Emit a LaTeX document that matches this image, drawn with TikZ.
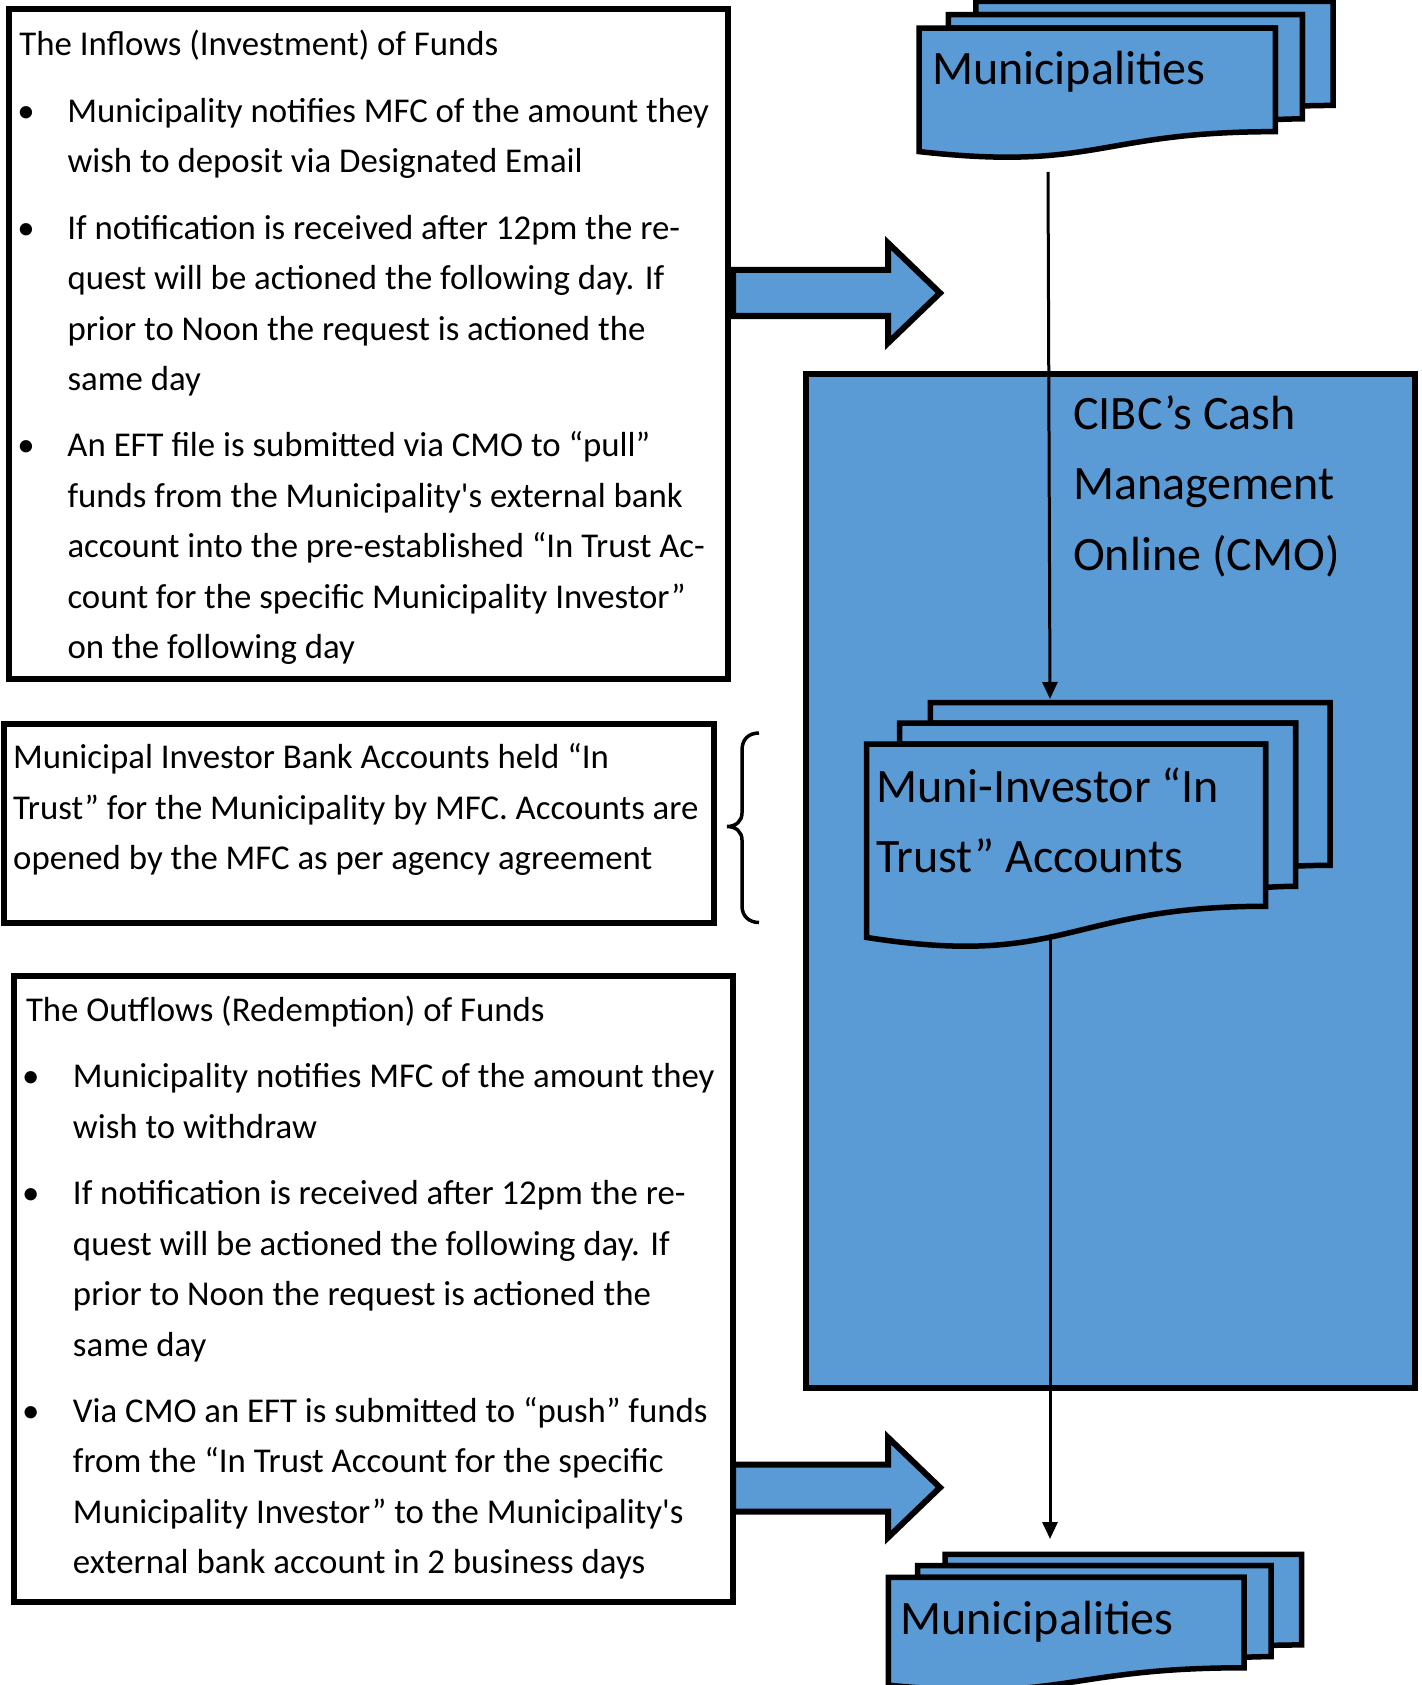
\documentclass[tikz,border=0pt]{standalone}
\usepackage{fontspec}
\newfontfamily\calib{Carlito}
\usetikzlibrary{arrows.meta}
\definecolor{offblue}{RGB}{91,155,213}
\tikzset{
 box/.style={draw=black, line width=6pt, fill=white, inner sep=0pt, anchor=north west},
 bluebox/.style={box, fill=offblue},
 docline/.style={draw=black, fill=offblue, line width=5.5pt, line join=miter},
 blockarrow/.style={draw=black, fill=offblue, line width=6pt, line join=miter, miter limit=10},
 conn/.style={draw=black, line width=3pt, -{Triangle[length=17pt,width=15pt]}},
 bracepath/.style={draw=black, line width=3.5pt},
 txt/.style={inner sep=0pt, anchor=base west, font=\calib},
}
\newcommand\smalltext{\fontsize{34.8pt}{50.5pt}\selectfont}
\newcommand\bigtext{\fontsize{48pt}{70.5pt}\selectfont}
% #1 left skip, #2 bullet box width, #3 text
\newcommand\bpara[3]{{\leftskip=#1\noindent\llap{\makebox[#2][l]{•}}#3\par}}
\newcommand\multidoc[4]{%
 \begin{scope}[shift={(#1,#2)},xscale=#3,yscale=#4]
  \path[docline] (0.13759,0.08403) -- (0.13759,0) -- (1,0) -- (1,0.66630) .. controls (0.96296,0.66630) and (0.92593,0.66977) .. (0.92593,0.66977) -- (0.92593,0.08403) -- cycle;
  \path[docline] (0.07093,0.17014) -- (0.07093,0.08403) -- (0.92593,0.08403) -- (0.92593,0.75241) .. controls (0.89343,0.75241) and (0.86088,0.75704) .. (0.86088,0.75704) -- (0.86088,0.17014) -- cycle;
  \path[docline] (0,0.96213) .. controls (0.43046,1.08991) and (0.43046,0.83435) .. (0.86088,0.83435) -- (0.86088,0.17014) -- (0,0.17014) -- cycle;
 \end{scope}}
\begin{document}
\begin{tikzpicture}[x=1pt,y=-1pt]
\useasboundingbox[fill=white] (0,0) rectangle (1421,1685);
% boxes
\node[box, minimum width=719.1pt, minimum height=669.7pt] (inbox) at (6,6) {};
\node[box, minimum width=709.5pt, minimum height=198.9pt] (midbox) at (1,721) {};
\node[box, minimum width=719.1pt, minimum height=626.6pt] (outbox) at (10.5,972.5) {};
\node[bluebox, minimum width=609pt, minimum height=1014.5pt] (cmo) at (802.5,370.5) {};
% multi-documents
\multidoc{866.7}{702.7}{463.3}{244}
\multidoc{919}{1.5}{414}{156}
\multidoc{888.3}{1554.3}{413.4}{136}
% connectors
\coordinate (c1s) at (1048,172);
\coordinate (c1e) at (1050,699);
\coordinate (c2s) at (1050,938);
\coordinate (c2e) at (1050,1539);
\draw[conn] (c1s) -- (c1e);
\draw[conn] (c2s) -- (c2e);
% block arrows
\path[blockarrow] (733,270) -- (888,270) -- (888,243) -- (940,293) -- (888,343) -- (888,316) -- (733,316) -- cycle;
\path[blockarrow] (733,1464.5) -- (888,1464.5) -- (888,1437.5) -- (940,1487.5) -- (888,1537.5) -- (888,1511.5) -- (733,1511.5) -- cycle;
% brace
\path[bracepath] (759,733) .. controls (749,733) and (742,739) .. (742,750) -- (742,813) .. controls (742,821) and (736,826.5) .. (727,826.5) .. controls (736,826.5) and (742,832) .. (742,840) -- (742,906) .. controls (742,916) and (749,922.5) .. (759,922.5);
% texts
\node[txt] (inflowtext) at (19.3,56) {\begin{minipage}[t]{700pt}\smalltext\raggedright\parskip=15.8pt
The Inflows (Investment) of Funds\par
\bpara{48pt}{50pt}{Municipality notifies MFC of the amount they\\wish to deposit via Designated Email}
\bpara{48pt}{50pt}{If notification is received after 12pm the re-\\quest will be actioned the following day. If\\prior to Noon the request is actioned the\\same day}
\bpara{48pt}{50pt}{An EFT file is submitted via CMO to “pull”\\funds from the Municipality's external bank\\account into the pre-established “In Trust Ac-\\count for the specific Municipality Investor”\\on the following day}
\end{minipage}};
\node[txt] (midtext) at (13,768.8) {\begin{minipage}[t]{700pt}\smalltext\raggedright
Municipal Investor Bank Accounts held “In\\Trust” for the Municipality by MFC. Accounts are\\opened by the MFC as per agency agreement
\end{minipage}};
\node[txt] (outflowtext) at (25.8,1021.4) {\begin{minipage}[t]{700pt}\smalltext\raggedright\parskip=15.8pt
The Outflows (Redemption) of Funds\par
\bpara{47pt}{51pt}{Municipality notifies MFC of the amount they\\wish to withdraw}
\bpara{47pt}{51pt}{If notification is received after 12pm the re-\\quest will be actioned the following day. If\\prior to Noon the request is actioned the\\same day}
\bpara{47pt}{51pt}{Via CMO an EFT is submitted to “push” funds\\from the “In Trust Account for the specific\\Municipality Investor” to the Municipality's\\external bank account in 2 business days}
\end{minipage}};
\node[txt] (cmotext) at (1073,429) {\begin{minipage}[t]{340pt}\bigtext\raggedright
CIBC’s Cash\\Management\\Online (CMO)
\end{minipage}};
\node[txt] (trusttext) at (876,802) {\begin{minipage}[t]{380pt}\fontsize{48pt}{70pt}\selectfont\raggedright
Muni-Investor “In\\Trust” Accounts
\end{minipage}};
\node[txt] (munitop) at (932,85) {\bigtext Municipalities};
\node[txt] (munibot) at (900,1634) {\bigtext Municipalities};
\end{tikzpicture}
\end{document}
